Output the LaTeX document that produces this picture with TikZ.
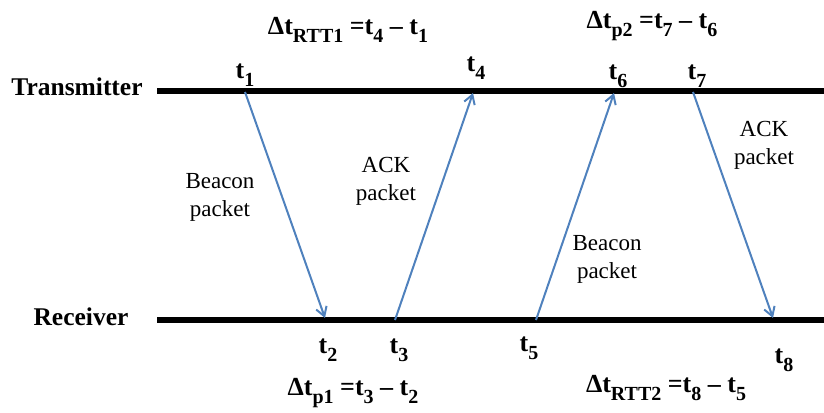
\documentclass[tikz,border=0pt]{standalone}
\usepackage{fontspec}
\setmainfont{Liberation Serif}
\usetikzlibrary{arrows.meta}

\definecolor{msgblue}{RGB}{79,129,189}
\newcommand{\sbs}[1]{\raisebox{-0.3em}{\fontsize{20}{20}\selectfont #1}}

\begin{document}
\begin{tikzpicture}[
    x=1pt, y=-1pt,
    every node/.style={font=\fontsize{23}{28}\selectfont, inner sep=0pt},
    axis_lbl/.style={font=\fontsize{25.5}{28}\selectfont\bfseries},
    tstamp/.style={font=\fontsize{26}{28}\selectfont\bfseries},
    delta/.style={font=\fontsize{26}{28}\selectfont\bfseries},
    pkt/.style={align=center},
    timeline/.style={line width=6pt, draw=black},
    msg/.style={-{Straight Barb[length=9pt, width=11pt, line width=2pt]}, line width=2pt, draw=msgblue},
]
\useasboundingbox (0,0) rectangle (824,412);

% Time lines
\node[axis_lbl] (tx) at (77,87) {Transmitter};
\node[axis_lbl] (rx) at (81,317) {Receiver};
\coordinate (txL) at (157,91);
\coordinate (txR) at (824,91);
\coordinate (rxL) at (157,320);
\coordinate (rxR) at (824,320);
\draw[timeline] (txL) -- (txR);
\draw[timeline] (rxL) -- (rxR);

% Event points
\coordinate (p1) at (245,92);
\coordinate (p2) at (325,318);
\coordinate (p3) at (395,320);
\coordinate (p4) at (473,93);
\coordinate (p5) at (536,320);
\coordinate (p6) at (614,93);
\coordinate (p7) at (693,92);
\coordinate (p8) at (773,318);

% Time stamps
\node[tstamp] (t1) at (245,75) {t\sbs{1}};
\node[tstamp] (t4) at (476,68) {t\sbs{4}};
\node[tstamp] (t6) at (618,76) {t\sbs{6}};
\node[tstamp] (t7) at (697,76) {t\sbs{7}};
\node[tstamp] (t2) at (328,350) {t\sbs{2}};
\node[tstamp] (t3) at (399,350) {t\sbs{3}};
\node[tstamp] (t5) at (529,348) {t\sbs{5}};
\node[tstamp] (t8) at (784,360) {t\sbs{8}};

% Delays
\node[delta] (rtt1) at (348,30) {Δt\sbs{RTT1} =t\sbs{4} – t\sbs{1}};
\node[delta] (tp2) at (652,26) {Δt\sbs{p2} =t\sbs{7} – t\sbs{6}};
\node[delta] (tp1) at (353,393) {Δt\sbs{p1} =t\sbs{3} – t\sbs{2}};
\node[delta] (rtt2) at (666,388) {Δt\sbs{RTT2} =t\sbs{8} – t\sbs{5}};

% Packets
\node[pkt] (beacon1) at (220,197) {Beacon\\packet};
\node[pkt] (ack1) at (386,181) {ACK\\packet};
\node[pkt] (beacon2) at (607,259) {Beacon\\packet};
\node[pkt] (ack2) at (764,145) {ACK\\packet};

\draw[msg] (p1) -- (p2);
\draw[msg] (p3) -- (p4);
\draw[msg] (p5) -- (p6);
\draw[msg] (p7) -- (p8);

\end{tikzpicture}
\end{document}
